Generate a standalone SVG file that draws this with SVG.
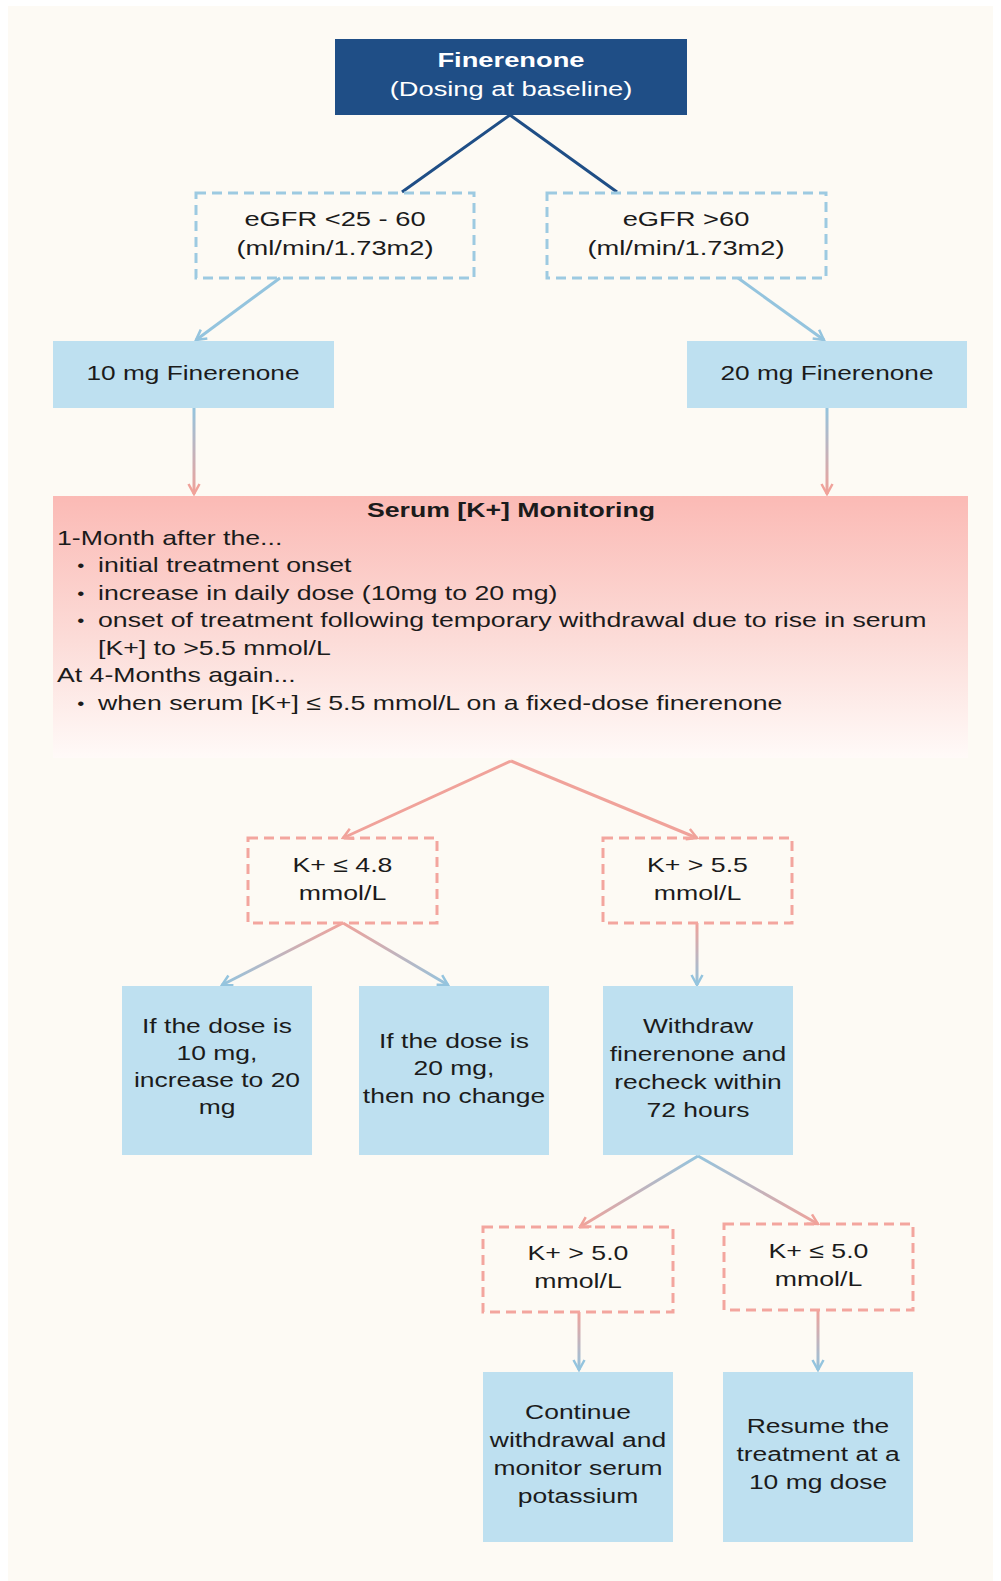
<svg xmlns="http://www.w3.org/2000/svg" width="1001" height="1581" viewBox="0 0 1001 1581">
<style>
.t{font-family:"Liberation Sans",Arial,sans-serif;font-size:21px;fill:#1b1b1b}
.b{font-weight:bold}
.w{fill:#ffffff}
.bu{font-size:16px}
.fill{fill:#bee0f0}
.dblue{fill:none;stroke:#9dcae1;stroke-width:3;stroke-dasharray:10 6}
.dpink{fill:none;stroke:#f3a59e;stroke-width:3;stroke-dasharray:10 6}
.ln{fill:none;stroke-width:3}
</style>
<defs>
<marker id="ab" viewBox="0 0 14 14" refX="12" refY="7" markerWidth="14" markerHeight="14" markerUnits="userSpaceOnUse" orient="auto"><path d="M2,1.5 L12,7 L2,12.5" fill="none" stroke="#94c4de" stroke-width="2.5"/></marker>
<marker id="ap" viewBox="0 0 14 14" refX="12" refY="7" markerWidth="14" markerHeight="14" markerUnits="userSpaceOnUse" orient="auto"><path d="M2,1.5 L12,7 L2,12.5" fill="none" stroke="#f0a29a" stroke-width="2.5"/></marker>
<linearGradient id="mon" x1="0" y1="0" x2="0" y2="1"><stop offset="0" stop-color="#fbbab5"/><stop offset="0.55" stop-color="#fcdcd8"/><stop offset="1" stop-color="#fffaf8"/></linearGradient>
<linearGradient id="g1" gradientUnits="userSpaceOnUse" x1="193" y1="408" x2="193" y2="494"><stop offset="0" stop-color="#94c4de"/><stop offset="1" stop-color="#f0a29a"/></linearGradient>
<linearGradient id="g2" gradientUnits="userSpaceOnUse" x1="827" y1="408" x2="827" y2="494"><stop offset="0" stop-color="#94c4de"/><stop offset="1" stop-color="#f0a29a"/></linearGradient>
<linearGradient id="g3" gradientUnits="userSpaceOnUse" x1="343" y1="923" x2="222" y2="985"><stop offset="0" stop-color="#f0a29a"/><stop offset="1" stop-color="#94c4de"/></linearGradient>
<linearGradient id="g4" gradientUnits="userSpaceOnUse" x1="343" y1="923" x2="448" y2="985"><stop offset="0" stop-color="#f0a29a"/><stop offset="1" stop-color="#94c4de"/></linearGradient>
<linearGradient id="g5" gradientUnits="userSpaceOnUse" x1="697" y1="923" x2="697" y2="985"><stop offset="0" stop-color="#f0a29a"/><stop offset="1" stop-color="#94c4de"/></linearGradient>
<linearGradient id="g6" gradientUnits="userSpaceOnUse" x1="698" y1="1156" x2="580" y2="1227"><stop offset="0" stop-color="#94c4de"/><stop offset="1" stop-color="#f0a29a"/></linearGradient>
<linearGradient id="g7" gradientUnits="userSpaceOnUse" x1="698" y1="1156" x2="818" y2="1224"><stop offset="0" stop-color="#94c4de"/><stop offset="1" stop-color="#f0a29a"/></linearGradient>
<linearGradient id="g8" gradientUnits="userSpaceOnUse" x1="579" y1="1312" x2="579" y2="1370"><stop offset="0" stop-color="#f0a29a"/><stop offset="1" stop-color="#94c4de"/></linearGradient>
<linearGradient id="g9" gradientUnits="userSpaceOnUse" x1="818" y1="1310" x2="818" y2="1370"><stop offset="0" stop-color="#f0a29a"/><stop offset="1" stop-color="#94c4de"/></linearGradient>
</defs>
<rect x="0" y="0" width="1001" height="1581" fill="#ffffff"/>
<rect x="8" y="6" width="985" height="1575" fill="#fdfaf4"/>

<g id="connectors">
<path class="ln" d="M510,115 L402,192 M510,115 L617,192" stroke="#1f4e86" stroke-width="3.5"/>
<path class="ln" d="M280,278 L196,340" stroke="#94c4de" marker-end="url(#ab)"/>
<path class="ln" d="M738,278 L824,340" stroke="#94c4de" marker-end="url(#ab)"/>
<path class="ln" d="M194,408 L194,494" stroke="url(#g1)" marker-end="url(#ap)"/>
<path class="ln" d="M827,408 L827,494" stroke="url(#g2)" marker-end="url(#ap)"/>
<path class="ln" d="M511,761 L343,838" stroke="#f0a29a" marker-end="url(#ap)"/>
<path class="ln" d="M511,761 L697,838" stroke="#f0a29a" marker-end="url(#ap)"/>
<path class="ln" d="M343,923 L222,985" stroke="url(#g3)" marker-end="url(#ab)"/>
<path class="ln" d="M343,923 L448,985" stroke="url(#g4)" marker-end="url(#ab)"/>
<path class="ln" d="M697,923 L697,985" stroke="url(#g5)" marker-end="url(#ab)"/>
<path class="ln" d="M698,1156 L580,1227" stroke="url(#g6)" marker-end="url(#ap)"/>
<path class="ln" d="M698,1156 L818,1224" stroke="url(#g7)" marker-end="url(#ap)"/>
<path class="ln" d="M579,1312 L579,1370" stroke="url(#g8)" marker-end="url(#ab)"/>
<path class="ln" d="M818,1310 L818,1370" stroke="url(#g9)" marker-end="url(#ab)"/>
</g>

<g id="start">
<rect x="335" y="39" width="352" height="76" fill="#1f4e86"/>
<text class="t w" transform="translate(511 0) scale(1.3 1)" text-anchor="middle"><tspan class="b" x="0" y="67">Finerenone</tspan><tspan x="0" y="96">(Dosing at baseline)</tspan></text>
</g>

<g id="egfr-low">
<rect class="dblue" x="196" y="193" width="278" height="85"/>
<text class="t" transform="translate(335 0) scale(1.3 1)" text-anchor="middle" font-size="20"><tspan x="0" y="226">eGFR &lt;25 - 60</tspan><tspan x="0" y="255">(ml/min/1.73m2)</tspan></text>
</g>

<g id="egfr-high">
<rect class="dblue" x="547" y="193" width="279" height="85"/>
<text class="t" transform="translate(686 0) scale(1.3 1)" text-anchor="middle" font-size="20"><tspan x="0" y="226">eGFR &gt;60</tspan><tspan x="0" y="255">(ml/min/1.73m2)</tspan></text>
</g>

<g id="dose10">
<rect class="fill" x="53" y="341" width="281" height="67"/>
<text class="t" transform="translate(193 0) scale(1.25 1)" text-anchor="middle" font-size="21.5"><tspan x="0" y="380">10 mg Finerenone</tspan></text>
</g>

<g id="dose20">
<rect class="fill" x="687" y="341" width="280" height="67"/>
<text class="t" transform="translate(827 0) scale(1.25 1)" text-anchor="middle" font-size="21.5"><tspan x="0" y="380">20 mg Finerenone</tspan></text>
</g>

<g id="monitoring">
<rect x="53" y="496" width="915" height="262" fill="url(#mon)"/>
<text class="t b" transform="translate(511 0) scale(1.27 1)" text-anchor="middle"><tspan x="0" y="517">Serum [K+] Monitoring</tspan></text>
<text class="t" transform="translate(57 0) scale(1.27 1)">
<tspan x="0" y="545">1-Month after the...</tspan>
<tspan class="bu" x="16" y="571.5">•</tspan><tspan x="32.3" y="572.5">initial treatment onset</tspan>
<tspan class="bu" x="16" y="599">•</tspan><tspan x="32.3" y="600">increase in daily dose (10mg to 20 mg)</tspan>
<tspan class="bu" x="16" y="626.5">•</tspan><tspan x="32.3" y="627.5">onset of treatment following temporary withdrawal due to rise in serum</tspan>
<tspan x="32.3" y="655">[K+] to &gt;5.5 mmol/L</tspan>
<tspan x="0" y="682.5">At 4-Months again...</tspan>
<tspan class="bu" x="16" y="709">•</tspan><tspan x="32.3" y="710">when serum [K+] ≤ 5.5 mmol/L on a fixed-dose finerenone</tspan>
</text>
</g>

<g id="k-le-48">
<rect class="dpink" x="248" y="838" width="189" height="85"/>
<text class="t" transform="translate(342.5 0) scale(1.27 1)" text-anchor="middle"><tspan x="0" y="872">K+ ≤ 4.8</tspan><tspan x="0" y="900">mmol/L</tspan></text>
</g>

<g id="k-gt-55">
<rect class="dpink" x="603" y="838" width="189" height="85"/>
<text class="t" transform="translate(697.5 0) scale(1.27 1)" text-anchor="middle"><tspan x="0" y="872">K+ &gt; 5.5</tspan><tspan x="0" y="900">mmol/L</tspan></text>
</g>

<g id="inc20">
<rect class="fill" x="122" y="986" width="190" height="169"/>
<text class="t" transform="translate(217 0) scale(1.26 1)" text-anchor="middle"><tspan x="0" y="1033">If the dose is</tspan><tspan x="0" y="1060">10 mg,</tspan><tspan x="0" y="1087">increase to 20</tspan><tspan x="0" y="1114">mg</tspan></text>
</g>

<g id="nochange">
<rect class="fill" x="359" y="986" width="190" height="169"/>
<text class="t" transform="translate(454 0) scale(1.26 1)" text-anchor="middle"><tspan x="0" y="1048">If the dose is</tspan><tspan x="0" y="1075.5">20 mg,</tspan><tspan x="0" y="1103">then no change</tspan></text>
</g>

<g id="withdraw">
<rect class="fill" x="603" y="986" width="190" height="169"/>
<text class="t" transform="translate(698 0) scale(1.26 1)" text-anchor="middle"><tspan x="0" y="1033">Withdraw</tspan><tspan x="0" y="1061">finerenone and</tspan><tspan x="0" y="1089">recheck within</tspan><tspan x="0" y="1117">72 hours</tspan></text>
</g>

<g id="k-gt-50">
<rect class="dpink" x="483" y="1227" width="190" height="85"/>
<text class="t" transform="translate(578 0) scale(1.27 1)" text-anchor="middle"><tspan x="0" y="1260">K+ &gt; 5.0</tspan><tspan x="0" y="1288">mmol/L</tspan></text>
</g>

<g id="k-le-50">
<rect class="dpink" x="724" y="1224" width="189" height="86"/>
<text class="t" transform="translate(818.5 0) scale(1.27 1)" text-anchor="middle"><tspan x="0" y="1258">K+ ≤ 5.0</tspan><tspan x="0" y="1286">mmol/L</tspan></text>
</g>

<g id="continue">
<rect class="fill" x="483" y="1372" width="190" height="170"/>
<text class="t" transform="translate(578 0) scale(1.26 1)" text-anchor="middle"><tspan x="0" y="1419">Continue</tspan><tspan x="0" y="1447">withdrawal and</tspan><tspan x="0" y="1475">monitor serum</tspan><tspan x="0" y="1503">potassium</tspan></text>
</g>

<g id="resume">
<rect class="fill" x="723" y="1372" width="190" height="170"/>
<text class="t" transform="translate(818 0) scale(1.26 1)" text-anchor="middle"><tspan x="0" y="1433">Resume the</tspan><tspan x="0" y="1461">treatment at a</tspan><tspan x="0" y="1489">10 mg dose</tspan></text>
</g>
</svg>
